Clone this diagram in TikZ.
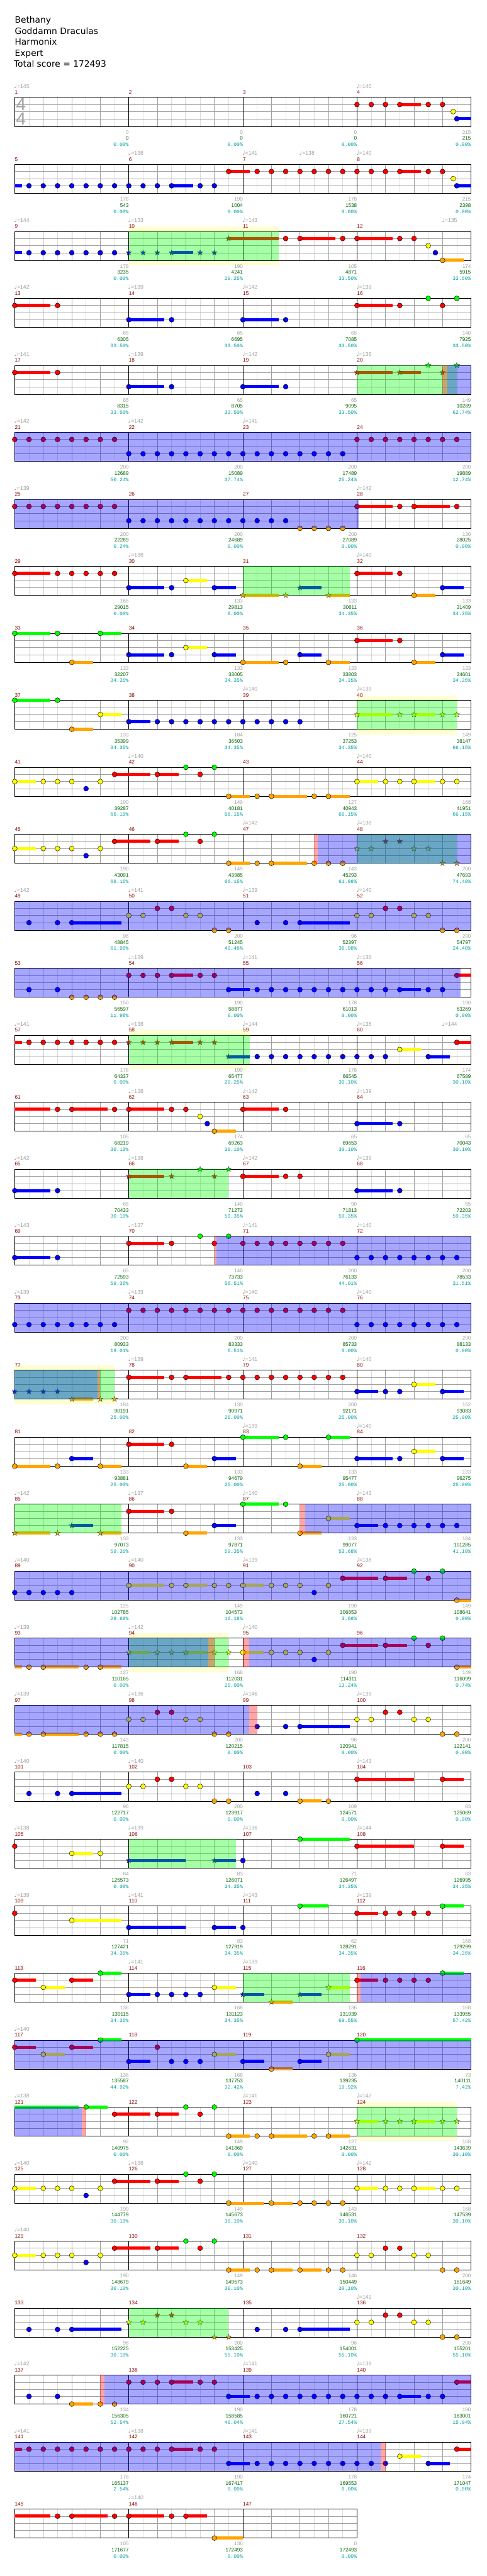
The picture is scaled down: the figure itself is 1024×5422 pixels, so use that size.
\documentclass[tikz,border=0pt]{standalone}
\usepackage{fontspec}
\setmainfont{Liberation Sans}
\newfontfamily\titlefont{DejaVu Sans}
\newfontfamily\notefont{DejaVu Sans}
\newfontfamily\pctfont{Liberation Mono}
\usetikzlibrary{shapes.geometric}

\definecolor{nR}{RGB}{255,0,0}
\definecolor{nY}{RGB}{255,255,0}
\definecolor{nB}{RGB}{0,0,255}
\definecolor{nO}{RGB}{255,165,0}
\definecolor{nG}{RGB}{0,255,0}
\definecolor{mred}{RGB}{139,0,0}
\definecolor{tgray}{RGB}{160,160,160}
\definecolor{tgreen}{RGB}{0,100,0}
\definecolor{tteal}{RGB}{0,160,160}
\definecolor{bandy}{RGB}{255,255,210}
\definecolor{lgrid}{RGB}{220,220,220}
\definecolor{mgrid}{RGB}{160,160,160}

\def\laneG{0}
\def\laneR{15}
\def\laneY{30}
\def\laneB{45}
\def\laneO{61}

\newcommand\gems[3]{\edef\ly{\csname lane#2\endcsname}%
  \foreach \e in {#3}{\node[gem,fill=n#2] at ({31+30*\e},{205+141*#1+\ly}) {};}}
\newcommand\holds[3]{\edef\ly{\csname lane#2\endcsname}%
  \foreach \e/\f in {#3}{%
    \fill[n#2] ({31+30*\e},{205+141*#1+\ly-3.3}) rectangle ({31+30*\f},{205+141*#1+\ly+3.3});
    \node[gem,fill=n#2] at ({31+30*\e},{205+141*#1+\ly}) {};}}
\newcommand\stars[3]{\edef\ly{\csname lane#2\endcsname}%
  \foreach \e in {#3}{\node[stargem,fill=n#2] at ({31+30*\e},{205+141*#1+\ly}) {};}}
\newcommand\starholds[3]{\edef\ly{\csname lane#2\endcsname}%
  \foreach \e/\f in {#3}{%
    \fill[n#2] ({31+30*\e},{205+141*#1+\ly-3.3}) rectangle ({31+30*\f},{205+141*#1+\ly+3.3});
    \node[stargem,fill=n#2] at ({31+30*\e},{205+141*#1+\ly}) {};}}
\newcommand\tails[3]{\edef\ly{\csname lane#2\endcsname}%
  \fill[n#2] (31,{205+141*#1+\ly-3.3}) rectangle ({31+30*#3},{205+141*#1+\ly+3.3});}
\newcommand\spgreen[3]{\fill[spg] ({31+30*#2},{205+141*#1}) rectangle ({31+30*#3},{205+141*#1+61});}
\newcommand\spblue[3]{\fill[spb] ({31+30*#2},{205+141*#1}) rectangle ({31+30*#3},{205+141*#1+61});}
\newcommand\spred[3]{\fill[spr] ({31+30*#2},{205+141*#1}) rectangle ({31+30*#3},{205+141*#1+61});}
\newcommand\band[3]{%
  \fill[bandy] ({31+30*#2},{205+141*#1-10.5}) rectangle ({31+30*#3},{205+141*#1});
  \fill[bandy] ({31+30*#2},{205+141*#1+61}) rectangle ({31+30*#3},{205+141*#1+71.5});}
\newcommand\tempos[2]{\foreach \e/\bpm in {#2}{%
  \node[tempo] at ({31+30*\e-1.5},{205+141*#1-19.3}) {{\notefont\fontsize{13}{13}\selectfont ♩}=\bpm};}}
\newcommand\scores[2]{\foreach \sa/\sb/\sc [count=\k] in {#2}{%
  \pgfmathtruncatemacro\mn{4*#1+\k}
  \node[ptsnum] (pts\mn) at ({31+240*\k},{205+141*#1+77}) {\sa};
  \node[totnum] (tot\mn) at ({31+240*\k},{205+141*#1+90}) {\sb};
  \node[pctnum] (pct\mn) at ({31+240*\k},{205+141*#1+103}) {\sc\%};}}

\begin{document}
\begin{tikzpicture}[
  x=1pt,y=-1pt,
  gem/.style={circle,draw=black,line width=0.6pt,inner sep=0pt,minimum size=10.4pt},
  stargem/.style={star,star points=5,star point ratio=2.4,draw=black!80,line width=0.5pt,inner sep=0pt,minimum size=12pt},
  eighthline/.style={lgrid,line width=0.8pt},
  beatline/.style={mgrid,line width=0.8pt},
  laneline/.style={mgrid,line width=0.8pt},
  barline/.style={black,line width=0.8pt},
  frame/.style={black,line width=1pt},
  spg/.style={fill=nG,fill opacity=0.35},
  spb/.style={fill=nB,fill opacity=0.35},
  spr/.style={fill=nR,fill opacity=0.35},
  titleline/.style={anchor=base west,inner sep=0pt,font=\titlefont\fontsize{18.3}{22}\selectfont},
  mnum/.style={anchor=base west,inner sep=0pt,text=mred,font=\fontsize{11}{12}\selectfont},
  tempo/.style={anchor=base west,inner sep=0pt,text=tgray,font=\fontsize{11.5}{12}\selectfont},
  ptsnum/.style={anchor=base east,inner sep=0pt,text=tgray,font=\fontsize{10.8}{12}\selectfont},
  totnum/.style={anchor=base east,inner sep=0pt,text=tgreen,font=\fontsize{10.8}{12}\selectfont},
  pctnum/.style={anchor=base east,inner sep=0pt,text=tteal,font=\pctfont\fontsize{10.7}{12}\selectfont},
  timesig/.style={inner sep=0pt,text=tgray,font=\fontsize{37}{37}\selectfont}
]
\fill[white] (0,0) rectangle (1024,5422);
\useasboundingbox (0,0) rectangle (1024,5422);

\node[titleline] (song) at (31,48.3) {Bethany};
\node[titleline] (artist) at (31,71.7) {Goddamn Draculas};
\node[titleline] (charter) at (31,95) {Harmonix};
\node[titleline] (level) at (31,118.3) {Expert};
\node[titleline] (total) at (29,141) {Total score = 172493};

% star phrase bands
\band{2}{8}{18.5}
\band{9}{24}{31}
\band{14}{8}{16.5}
\band{19}{0}{7}
\band{23}{8}{15}
\band{30}{24}{31}

% staves
\foreach \r in {0,...,36}{
  \pgfmathtruncatemacro\nm{\r==36 ? 3 : 4}
  \pgfmathsetmacro\ty{205+141*\r}
  \pgfmathtruncatemacro\last{8*\nm-1}
  \pgfmathtruncatemacro\nb{\nm-1}
  \pgfmathsetmacro\xr{31+240*\nm}
  \foreach \e in {1,3,...,\last} \draw[eighthline] ({31+30*\e},\ty) -- ++(0,61);
  \foreach \e in {2,4,...,\last} \draw[beatline] ({31+30*\e},\ty) -- ++(0,61);
  \foreach \l in {15,30,45} \draw[laneline] (31,{\ty+\l}) -- (\xr,{\ty+\l});
  \foreach \k in {1,...,\nb} \draw[barline] ({31+240*\k},\ty) -- ++(0,61);
  \foreach \k in {1,...,\nm}{
    \pgfmathtruncatemacro\mn{4*\r+\k}
    \node[mnum] (m\mn) at ({31+240*(\k-1)},{\ty-7}) {\mn};
  }
  \draw[frame] (31,\ty) rectangle (\xr,{\ty+61});
}
\node[timesig] (sigtop) at (44.3,220) {4};
\node[timesig] (sigbot) at (44.3,250.5) {4};

% 1-4
\tempos{0}{0/145,24/140}
\gems{0}{R}{24,25,26,29,30}
\holds{0}{R}{27/28.5}
\gems{0}{Y}{30.75}
\holds{0}{B}{31/32}
\scores{0}{0/0/0.00,0/0/0.00,0/0/0.00,215/215/0.00}

% 5-8
\tempos{1}{8/138,16/141,20/138,24/140}
\tails{1}{B}{0.5}
\gems{1}{B}{1,2,3,4,5,6,7,8,9,10,13,14}
\holds{1}{B}{11/12.5}
\holds{1}{R}{15/16.5,27/28.5}
\gems{1}{R}{17,18,19,20,21,22,23,24,25,26,29,30}
\gems{1}{Y}{30.75}
\holds{1}{B}{31/32}
\scores{1}{178/543/0.00,190/1004/0.00,178/1538/0.00,215/2398/0.00}

% 9-12
\tempos{2}{0/144,8/133,16/143,30/135}
\tails{2}{B}{0.5}
\gems{2}{B}{1,2,3,4,5,6,7}
\starholds{2}{B}{11/12.5}
\stars{2}{B}{8,9,10,13,14}
\starholds{2}{R}{15/18.5}
\holds{2}{R}{20/22.5,24/26.5}
\gems{2}{R}{19,23,27,28}
\gems{2}{Y}{29}
\gems{2}{B}{29.5}
\holds{2}{O}{30/31.5}
\spgreen{2}{8}{18.5}
\scores{2}{178/3235/0.00,190/4241/29.25,105/4871/33.50,174/5915/33.50}

% 13-16
\tempos{3}{0/142,8/139,16/142,24/139}
\holds{3}{R}{0/2.5,24/26.5}
\gems{3}{R}{3,27,30}
\holds{3}{B}{8/10.5,16/18.5}
\gems{3}{B}{11,19}
\gems{3}{G}{29,31}
\scores{3}{65/6305/33.50,65/6695/33.50,65/7085/33.50,140/7925/33.50}

% 17-20
\tempos{4}{0/141,8/139,16/142,24/136}
\holds{4}{R}{0/2.5}
\gems{4}{R}{3}
\holds{4}{B}{8/10.5,16/18.5}
\gems{4}{B}{11,19}
\starholds{4}{R}{24/26.5,27/28.5}
\stars{4}{R}{30}
\stars{4}{G}{29,31}
\spgreen{4}{24}{31}
\spred{4}{30}{30.33}
\spblue{4}{30.33}{32}
\scores{4}{65/8315/33.50,65/8705/33.50,65/9095/33.50,149/10289/62.74}

% 21-24
\tempos{5}{0/142,8/142,16/141}
\gems{5}{R}{0,1,2,3,4,5,6,7,24,25,26,27,28,29,30,31}
\gems{5}{B}{8,9,10,11,12,13,14,15,16,17,18,19,20,21,22,23}
\spblue{5}{0}{32}
\scores{5}{200/12689/50.24,200/15089/37.74,200/17489/25.24,200/19889/12.74}

% 25-28
\tempos{6}{0/139,24/142}
\gems{6}{R}{0,1,2,3,4,5,6,7,27,31}
\gems{6}{B}{8,9,10,11,12,13,14,15,16,17,18,19}
\gems{6}{O}{20,21,22,23}
\holds{6}{R}{24/26.5,28/30.5}
\spblue{6}{0}{24.1}
\scores{6}{200/22289/0.24,200/24689/0.00,200/27089/0.00,130/28025/0.00}

% 29-32
\tempos{7}{8/138,24/140}
\holds{7}{R}{0/2.5,24/26.5}
\gems{7}{R}{3,4,5,6,7,27}
\holds{7}{B}{8/10.5,14/15.5,30/31.5}
\gems{7}{B}{11}
\holds{7}{Y}{12/13.5}
\starholds{7}{O}{16/18.5,22/23.5}
\stars{7}{O}{19}
\starholds{7}{B}{20/21.5}
\holds{7}{O}{28/29.5}
\spgreen{7}{16}{23.5}
\scores{7}{165/29015/0.00,133/29813/0.00,133/30611/34.35,133/31409/34.35}

% 33-36
\holds{8}{G}{0/2.5,6/7.5}
\gems{8}{G}{3}
\holds{8}{O}{4/5.5,16/18.5,22/23.5,28/29.5}
\gems{8}{O}{19}
\holds{8}{B}{8/10.5,14/15.5,20/21.5,30/31.5}
\gems{8}{B}{11}
\holds{8}{Y}{12/13.5}
\holds{8}{R}{24/26.5}
\gems{8}{R}{27}
\scores{8}{133/32207/34.35,133/33005/34.35,133/33803/34.35,133/34601/34.35}

% 37-40
\tempos{9}{16/140,24/139}
\holds{9}{G}{0/2.5}
\gems{9}{G}{3}
\holds{9}{O}{4/5.5}
\holds{9}{Y}{6/7.5}
\holds{9}{B}{8/9.5}
\gems{9}{B}{10,11,12,13,14,15,16,17,18,19,20}
\starholds{9}{Y}{24/26.5,28/29.5}
\stars{9}{Y}{27,30,31}
\spgreen{9}{24}{31}
\scores{9}{133/35399/34.35,184/36503/34.35,125/37253/34.35,149/38147/66.15}

% 41-44
\tempos{10}{8/140,24/140}
\holds{10}{Y}{0/1.5,24/25.5,28/29.5}
\gems{10}{Y}{2,3,4,6,26,27,30,31}
\gems{10}{B}{5}
\holds{10}{R}{7/9.5,10/11.5}
\gems{10}{R}{13}
\gems{10}{G}{12,14}
\holds{10}{O}{15/16.5,18/20.5,22/23.5}
\gems{10}{O}{17,21}
\scores{10}{190/39287/66.15,149/40181/66.15,127/40943/66.15,168/41951/66.15}

% 45-48
\tempos{11}{16/142,24/138}
\holds{11}{Y}{0/1.5}
\gems{11}{Y}{2,3,4,6}
\gems{11}{B}{5}
\holds{11}{R}{7/9.5,10/11.5}
\gems{11}{R}{13}
\gems{11}{G}{12,14}
\holds{11}{O}{15/16.5,18/20.5}
\gems{11}{O}{17,21,22,23}
\stars{11}{Y}{24,25,28,29}
\stars{11}{R}{26,27}
\stars{11}{O}{30,31}
\spgreen{11}{24}{31}
\spred{11}{21}{21.27}
\spblue{11}{21.27}{32}
\scores{11}{190/43091/66.15,149/43985/66.15,143/45293/61.98,200/47693/74.48}

% 49-52
\tempos{12}{0/142,8/141,16/139,24/140}
\gems{12}{B}{1,3,17,19}
\holds{12}{B}{4/7.5,20/23.5}
\gems{12}{Y}{8,9,12,13,24,25,28,29}
\gems{12}{R}{10,11,26,27}
\gems{12}{O}{14,15,30,31}
\spblue{12}{0}{32}
\scores{12}{96/48845/61.98,200/51245/49.48,96/52397/36.98,200/54797/24.48}

% 53-56
\tempos{13}{8/139,16/141,24/138}
\gems{13}{B}{1,3,17,18,19,20,21,22,23,24,25,26,29,30}
\gems{13}{O}{4,5,6,7}
\gems{13}{R}{8,9,10,13,14}
\holds{13}{R}{11/12.5,31/32}
\holds{13}{B}{15/16.5,27/28.5}
\spblue{13}{0}{31.28}
\scores{13}{150/56597/11.98,190/58877/0.00,178/61013/0.00,190/63269/0.00}

% 57-60
\tempos{14}{0/141,8/138,16/144,24/135,30/144}
\tails{14}{R}{0.5}
\gems{14}{R}{1,2,3,4,5,6,7}
\starholds{14}{R}{11/12.5}
\stars{14}{R}{8,9,10,13,14}
\starholds{14}{B}{15/16.5}
\gems{14}{B}{17,18,19,20,21,22,23,24,25,26}
\holds{14}{Y}{27/28.5}
\holds{14}{B}{29/30.5}
\holds{14}{R}{31/32}
\spgreen{14}{8}{16.5}
\scores{14}{178/64337/0.00,190/65477/29.25,178/66545/30.10,174/67589/30.10}

% 61-64
\tempos{15}{8/138,16/142,24/139}
\tails{15}{R}{2.5}
\gems{15}{R}{3,7,11,12,19}
\holds{15}{R}{4/6.5,8/10.5,16/18.5}
\gems{15}{Y}{13}
\holds{15}{O}{14/15.5}
\gems{15}{B}{13.5,27}
\holds{15}{B}{24/26.5}
\scores{15}{105/68219/30.10,174/69263/30.10,65/69653/30.10,65/70043/30.10}

% 65-68
\tempos{16}{0/142,8/138,16/142,24/139}
\holds{16}{B}{0/2.5,24/26.5}
\gems{16}{B}{3,27}
\starholds{16}{R}{8/10.5}
\stars{16}{R}{11,14}
\stars{16}{G}{13,15}
\holds{16}{R}{16/18.5}
\gems{16}{R}{19,20}
\spgreen{16}{8}{15}
\scores{16}{65/70433/30.10,140/71273/59.35,90/71813/59.35,65/72203/59.35}

% 69-72
\tempos{17}{0/143,8/137,16/141,24/140}
\holds{17}{B}{0/2.5}
\gems{17}{B}{3,24,25,26,27,28,29,30,31}
\holds{17}{R}{8/10.5}
\gems{17}{R}{11,14,16,17,18,19,20,21,22,23}
\gems{17}{G}{13,15}
\spred{17}{14}{14.13}
\spblue{17}{14.13}{32}
\scores{17}{65/72593/59.35,140/73733/56.51,200/76133/44.01,200/78533/31.51}

% 73-76
\tempos{18}{0/139,8/139,16/140,24/140}
\gems{18}{B}{0,1,2,3,4,5,6,7,24,25,26,27,28,29,30,31}
\gems{18}{R}{8,9,10,11,12,13,14,15,16,17,18,19,20,21,22,23}
\spblue{18}{0}{32}
\scores{18}{200/80933/19.01,200/83333/6.51,200/85733/0.00,200/88133/0.00}

% 77-80
\tempos{19}{8/139,16/141,24/140}
\stars{19}{B}{0,1,2,3}
\starholds{19}{O}{4/5.5}
\stars{19}{O}{6,7}
\holds{19}{R}{8/10.5,12/14.5}
\gems{19}{R}{11,15,16,17,18,19,20,21,22,23}
\holds{19}{B}{24/25.5,30/31.5}
\gems{19}{B}{26,27}
\holds{19}{Y}{28/29.5}
\spgreen{19}{0}{7}
\spblue{19}{0}{5.8}
\spred{19}{5.8}{6}
\scores{19}{184/90191/25.00,130/90971/25.00,200/92171/25.00,152/93083/25.00}

% 81-84
\tempos{20}{16/139,24/140}
\holds{20}{O}{0/2.5,6/7.5,12/13.5,20/21.5}
\gems{20}{O}{3}
\holds{20}{B}{4/5.5,14/15.5,24/26.5,30/31.5}
\gems{20}{B}{27}
\holds{20}{R}{8/10.5}
\gems{20}{R}{11}
\holds{20}{G}{16/18.5,22/23.5}
\gems{20}{G}{19}
\holds{20}{Y}{28/29.5}
\scores{20}{133/93881/25.00,133/94679/25.00,133/95477/25.00,133/96275/25.00}

% 85-88
\tempos{21}{0/142,8/137,16/140,24/143}
\starholds{21}{O}{0/2.5,6/7.5}
\stars{21}{O}{3}
\starholds{21}{B}{4/5.5}
\holds{21}{R}{8/10.5}
\gems{21}{R}{11}
\holds{21}{O}{12/13.5,20/21.5}
\holds{21}{B}{14/15.5,24/25.5}
\holds{21}{G}{16/18.5}
\gems{21}{G}{19}
\holds{21}{Y}{22/23.5}
\gems{21}{B}{26,27,28,29,30,31}
\spgreen{21}{0}{7.5}
\spred{21}{20}{20.35}
\spblue{21}{20.35}{32}
\scores{21}{133/97073/59.35,133/97871/59.35,133/99077/53.68,184/101285/41.18}

% 89-92
\tempos{22}{0/140,8/140,16/139,24/138}
\gems{22}{B}{0,1,2,3,4,21}
\holds{22}{Y}{8/10.5,12/13.5,16/17.5}
\gems{22}{Y}{11,14,15,18,19,20,22}
\holds{22}{R}{23/25.5,26/27.5}
\gems{22}{G}{28,30}
\gems{22}{R}{29}
\holds{22}{O}{31/32}
\spblue{22}{0}{32}
\scores{22}{125/102785/28.68,149/104573/16.18,190/106853/3.68,149/108641/0.00}

% 93-96
\tempos{23}{0/139,8/142,16/140}
\tails{23}{O}{0.5}
\gems{23}{O}{1,5}
\holds{23}{O}{2/4.5,6/7.5,31/32}
\starholds{23}{Y}{8/9.5,12/13.5}
\stars{23}{Y}{10,11,14,15}
\holds{23}{Y}{16/17.5}
\gems{23}{Y}{18,19,20,22}
\gems{23}{B}{21}
\holds{23}{R}{23/25.5,26/27.5}
\gems{23}{G}{28,30}
\gems{23}{R}{29}
\spgreen{23}{8}{15}
\spblue{23}{0}{13.58}
\spred{23}{13.58}{14}
\spred{23}{16}{16.43}
\spblue{23}{16.43}{32}
\scores{23}{127/110165/0.00,168/112031/25.00,190/114311/13.24,149/116099/0.74}

% 97-100
\tempos{24}{0/139,8/136,16/146,24/139}
\tails{24}{O}{0.5}
\gems{24}{O}{1,5,6,7,14,15,30,31}
\holds{24}{O}{2/4.5}
\gems{24}{Y}{8,9,12,13,24,25,28,29}
\gems{24}{R}{10,11,26,27}
\gems{24}{B}{17,19}
\holds{24}{B}{20/23.5}
\spblue{24}{0}{16.43}
\spred{24}{16.43}{17}
\scores{24}{143/117815/0.00,200/120215/0.00,96/120941/0.00,200/122141/0.00}

% 101-104
\tempos{25}{0/140,8/140,24/143}
\gems{25}{B}{1,3,17,19}
\holds{25}{B}{4/7.5}
\gems{25}{Y}{8,9,12,13}
\gems{25}{R}{10,11}
\gems{25}{O}{14,15,22}
\holds{25}{O}{20/21.5}
\holds{25}{R}{24/28,30/31.5}
\scores{25}{96/122717/0.00,200/123917/0.00,109/124571/0.00,83/125069/0.00}

% 105-108
\tempos{26}{0/138,8/139,16/136,24/144}
\gems{26}{R}{0}
\holds{26}{Y}{4/5.5}
\gems{26}{Y}{6}
\starholds{26}{B}{8/12,14/15.5}
\gems{26}{B}{16}
\holds{26}{G}{20/23.5}
\holds{26}{R}{24/28,30/31.5}
\spgreen{26}{8}{15.5}
\scores{26}{84/125573/0.00,83/126071/34.35,71/126497/34.35,83/126995/34.35}

% 109-112
\tempos{27}{0/139,8/141,16/143,24/139}
\gems{27}{R}{0,26,27,28,29}
\holds{27}{Y}{4/7.5}
\holds{27}{B}{8/12,14/15.5}
\gems{27}{B}{16}
\holds{27}{G}{20/22,30/31.5}
\holds{27}{R}{24/25.5}
\scores{27}{71/127421/34.35,83/127919/34.35,62/128291/34.35,168/129299/34.35}

% 113-116
\tempos{28}{8/141,16/139}
\holds{28}{R}{0/1.5,4/5.5,24/25.5}
\holds{28}{Y}{2/3.5,14/15.5}
\holds{28}{G}{6/7.5,30/31.5}
\holds{28}{B}{8/9.5}
\gems{28}{B}{10,11,12,13}
\starholds{28}{B}{16/17.5,20/21.5}
\starholds{28}{O}{18/19.5}
\starholds{28}{Y}{22/23.5}
\gems{28}{R}{26,27,28,29}
\spgreen{28}{16}{23.5}
\spred{28}{24}{24.24}
\spblue{28}{24.24}{32}
\scores{28}{136/130115/34.35,168/131123/34.35,136/131939/69.55,168/133955/57.42}

% 117-120
\tempos{29}{0/140}
\holds{29}{R}{0/1.5,4/5.5}
\holds{29}{Y}{2/3.5,14/15.5,22/23.5}
\holds{29}{G}{6/7.5,24/32}
\holds{29}{B}{8/9.5,16/17.5,20/21.5}
\gems{29}{R}{10}
\gems{29}{B}{11,12,13}
\holds{29}{O}{18/19.5}
\spblue{29}{0}{32}
\scores{29}{136/135587/44.92,168/137753/32.42,136/139235/19.92,73/140111/7.42}

% 121-124
\tempos{30}{0/138,16/141,24/142}
\tails{30}{G}{4.5}
\holds{30}{G}{5/6.5}
\holds{30}{R}{7/9.5,10/11.5}
\gems{30}{G}{12,14}
\gems{30}{R}{13}
\holds{30}{O}{15/16.5,18/20.5,22/23.5}
\gems{30}{O}{17,21}
\starholds{30}{Y}{24/25.5,28/29.5}
\stars{30}{Y}{26,27,30,31}
\spblue{30}{0}{4.72}
\spred{30}{4.72}{5}
\spgreen{30}{24}{31}
\scores{30}{92/140975/0.00,149/141869/0.00,127/142631/0.00,168/143639/30.10}

% 125-128
\tempos{31}{0/140,8/138,16/140,24/142}
\holds{31}{Y}{0/1.5,24/25.5,28/29.5}
\gems{31}{Y}{2,3,4,6,26,27,30,31}
\gems{31}{B}{5}
\holds{31}{R}{7/9.5,10/11.5}
\gems{31}{G}{12,14}
\gems{31}{R}{13}
\holds{31}{O}{15/17.5,18/19.5}
\gems{31}{O}{20,21,22,23}
\scores{31}{190/144779/30.10,149/145673/30.10,143/146531/30.10,168/147539/30.10}

% 129-132
\tempos{32}{0/140}
\holds{32}{Y}{0/1.5}
\gems{32}{Y}{2,3,4,6,24,25,28,29}
\gems{32}{B}{5}
\holds{32}{R}{7/9.5,10/11.5}
\gems{32}{G}{12,14}
\gems{32}{R}{13,26,27}
\holds{32}{O}{15/16.5,18/19.5,20/21.5}
\gems{32}{O}{17,22,23,30,31}
\scores{32}{190/148679/30.10,149/149573/30.10,146/150449/30.10,200/151649/30.10}

% 133-136
\tempos{33}{24/141}
\gems{33}{B}{1,3,17,19}
\holds{33}{B}{4/7.5,20/23.5}
\stars{33}{Y}{8,9,12,13}
\stars{33}{R}{10,11}
\stars{33}{O}{14,15}
\gems{33}{Y}{24,25,28,29}
\gems{33}{R}{26,27}
\gems{33}{O}{30,31}
\spgreen{33}{8}{15}
\scores{33}{96/152225/30.10,200/153425/55.10,96/154001/55.10,200/155201/55.10}

% 137-140
\tempos{34}{0/142,16/141,24/139}
\gems{34}{B}{1,3,17,18,19,20,21,22,23,24,25,26,29,30}
\holds{34}{O}{4/5.5}
\gems{34}{O}{6,7}
\gems{34}{R}{8,9,10,13,14}
\holds{34}{R}{11/12.5,31/32}
\holds{34}{B}{15/16.5,27/28.5}
\spred{34}{6}{6.29}
\spblue{34}{6.29}{32}
\scores{34}{134/156305/52.54,190/158585/40.04,178/160721/27.54,190/163001/15.04}

% 141-144
\tempos{35}{0/141,8/138,16/141,24/139}
\tails{35}{R}{0.5}
\gems{35}{R}{1,2,3,4,5,6,7,8,9,10,13,14}
\holds{35}{R}{11/12.5,31/32}
\holds{35}{B}{15/16.5,29/30.5}
\gems{35}{B}{17,18,19,20,21,22,23,24,25,26}
\holds{35}{Y}{27/28.5}
\spblue{35}{0}{25.64}
\spred{35}{25.64}{26}
\scores{35}{178/165137/2.54,190/167417/0.00,178/169553/0.00,174/171047/0.00}

% 145-147
\tempos{36}{8/140}
\tails{36}{R}{2.5}
\gems{36}{R}{3,7,11}
\holds{36}{R}{4/6.5,8/10.5,12/13.5}
\holds{36}{O}{14/16}
\scores{36}{105/171677/0.00,136/172493/0.00,0/172493/0.00}
\end{tikzpicture}
\end{document}
